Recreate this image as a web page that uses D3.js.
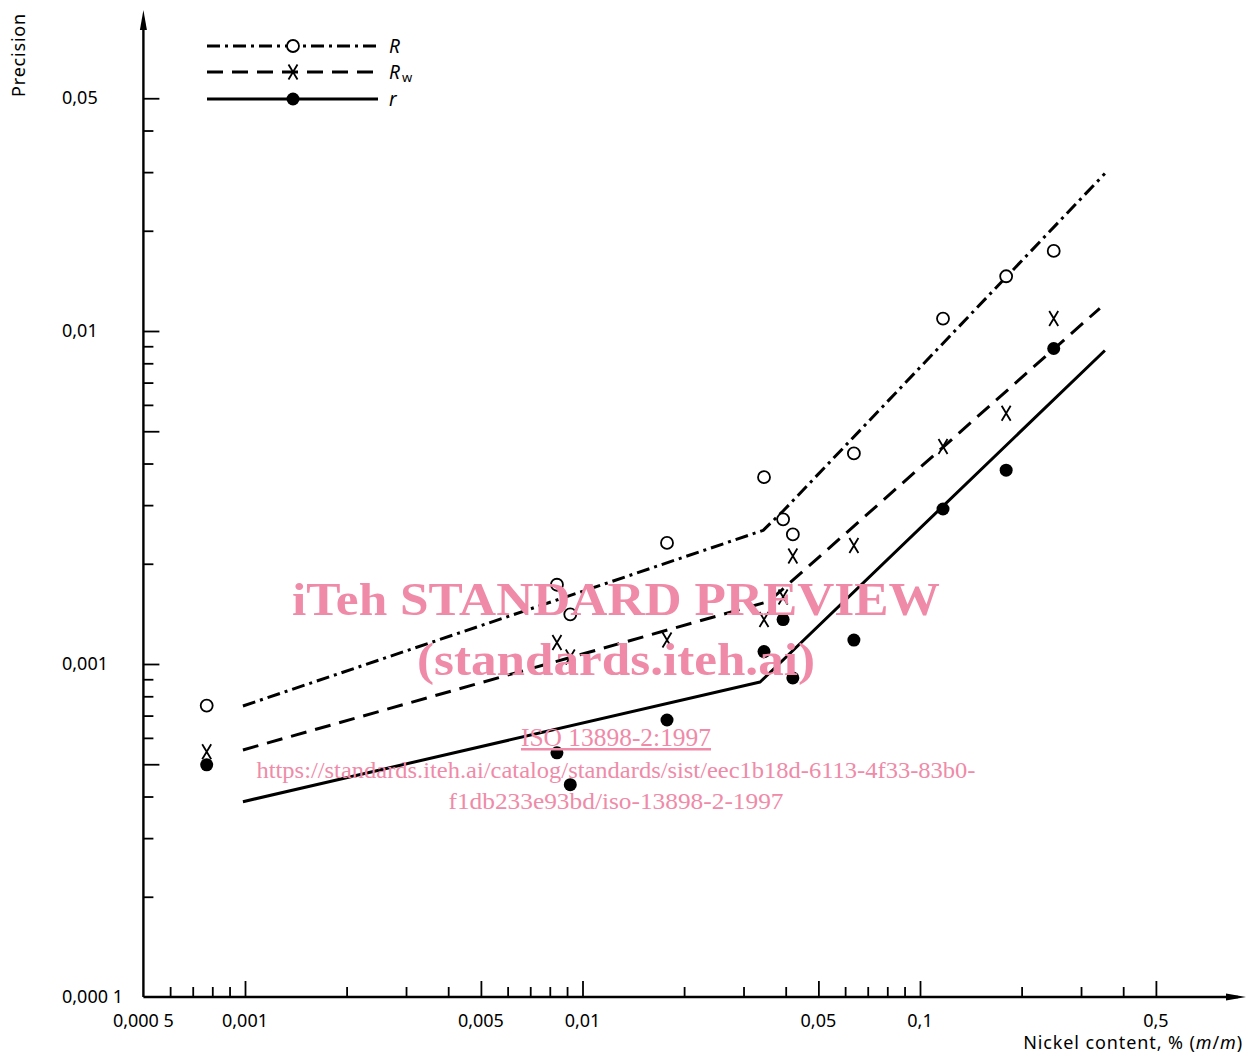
<!DOCTYPE html>
<html>
<head>
<meta charset="utf-8">
<script src="https://cdn.jsdelivr.net/npm/d3@7"></script>
<style>
  body { margin: 0; background: #fff; }
  svg { font-family: "Noto Sans", "DejaVu Sans", sans-serif; }
</style>
</head>
<body>
<script>
// Nickel content, % (m/m) of the test samples
var nickel = [0.00077, 0.0084, 0.0092, 0.0178, 0.0345, 0.0393, 0.042, 0.0637, 0.117, 0.180, 0.249];

// precision values
var valR  = [0.00075, 0.00173, 0.00141, 0.00231, 0.00364, 0.00272, 0.00245, 0.00429, 0.0109, 0.0146, 0.0174];
var valRw = [0.000545, 0.00116, 0.00105, 0.00118, 0.00136, 0.00159, 0.00211, 0.00227, 0.0045, 0.00566, 0.0109];
var valr  = [0.000498, 0.000541, 0.000434, 0.000679, 0.00109, 0.00136, 0.000908, 0.00118, 0.00292, 0.00382, 0.00886];

// fitted lines (knots, x then y)
var lineR  = [[0.000986, 0.000748], [0.0343, 0.00252], [0.0393, 0.00288], [0.353, 0.0297]];
var lineRw = [[0.000986, 0.000552], [0.0355, 0.00154], [0.039, 0.00167], [0.341, 0.0117]];
var liner  = [[0.000986, 0.000386], [0.0336, 0.000883], [0.353, 0.00874]];

var xTicks = [0.0006, 0.0007, 0.0008, 0.0009, 0.001, 0.002, 0.003, 0.004, 0.005, 0.006, 0.007, 0.008, 0.009,
              0.01, 0.02, 0.03, 0.04, 0.05, 0.06, 0.07, 0.08, 0.09, 0.1, 0.2, 0.3, 0.4, 0.5];
var xLabels = [[0.0005, "0,000 5"], [0.001, "0,001"], [0.005, "0,005"], [0.01, "0,01"],
               [0.05, "0,05"], [0.1, "0,1"], [0.5, "0,5"]];
var yTicks = [0.0002, 0.0003, 0.0004, 0.0005, 0.0006, 0.0007, 0.0008, 0.0009, 0.001,
              0.002, 0.003, 0.004, 0.005, 0.006, 0.007, 0.008, 0.009, 0.01,
              0.02, 0.03, 0.04, 0.05];
var yLabels = [[0.0001, "0,000 1"], [0.001, "0,001"], [0.01, "0,01"], [0.05, "0,05"]];

var width = 1246, height = 1056;

var svg = d3.select("body").append("svg")
    .attr("width", width)
    .attr("height", height);

svg.append("rect").attr("width", width).attr("height", height).attr("fill", "#fff");

var x = d3.scaleLog().domain([0.001, 0.1]).range([245, 920]);
var y = d3.scaleLog().domain([0.001, 0.01]).range([664, 331]);

var x0 = x(0.0005), y0 = y(0.0001);

function isMajor(v) {
  var m = v / Math.pow(10, Math.floor(Math.log10(v) + 1e-9));
  return Math.abs(m - 1) < 1e-6 || Math.abs(m - 5) < 1e-6;
}

// ---- axes ----
var axes = svg.append("g").attr("stroke", "#000").attr("fill", "none");

axes.append("line").attr("x1", x0).attr("y1", y0).attr("x2", 1238).attr("y2", y0)
    .attr("stroke-width", 2.4);
axes.append("line").attr("x1", x0).attr("y1", y0).attr("x2", x0).attr("y2", 20)
    .attr("stroke-width", 2.4);
svg.append("path").attr("d", "M1246," + y0 + " L1226," + (y0 - 3.5) + " L1226," + (y0 + 3.5) + " Z");
svg.append("path").attr("d", "M" + x0 + ",10 L" + (x0 - 3.5) + ",30 L" + (x0 + 3.5) + ",30 Z");

var xAxisMinor = d3.axisTop(x).tickValues(xTicks.filter(function(v) { return !isMajor(v); }))
    .tickSize(10).tickFormat("");
var xAxisMajor = d3.axisTop(x).tickValues(xTicks.filter(isMajor)).tickSize(16).tickFormat("");
[xAxisMinor, xAxisMajor].forEach(function(ax) {
  var g = svg.append("g").attr("transform", "translate(0," + y0 + ")").call(ax);
  g.select(".domain").remove();
  g.selectAll("line").attr("stroke-width", 1.8);
});

var yAxisMinor = d3.axisRight(y).tickValues(yTicks.filter(function(v) { return !isMajor(v); }))
    .tickSize(10).tickFormat("");
var yAxisMajor = d3.axisRight(y).tickValues(yTicks.filter(isMajor)).tickSize(16).tickFormat("");
[yAxisMinor, yAxisMajor].forEach(function(ax) {
  var g = svg.append("g").attr("transform", "translate(" + x0 + ",0)").call(ax);
  g.select(".domain").remove();
  g.selectAll("line").attr("stroke-width", 1.8);
});

svg.selectAll("text.xlab").data(xLabels).enter().append("text")
    .attr("class", "xlab")
    .attr("x", function(d) { return x(d[0]); })
    .attr("y", 1027)
    .attr("text-anchor", "middle")
    .attr("font-size", 18)
    .text(function(d) { return d[1]; });

svg.selectAll("text.ylab").data(yLabels).enter().append("text")
    .attr("class", "ylab")
    .attr("x", 62)
    .attr("y", function(d) { return y(d[0]) + 6; })
    .attr("font-size", 18)
    .text(function(d) { return d[1]; });

svg.append("text")
    .attr("transform", "translate(25,55) rotate(-90)")
    .attr("text-anchor", "middle")
    .attr("font-size", 18)
    .attr("letter-spacing", 0.8)
    .text("Precision");

var xt = svg.append("text").attr("x", 1243).attr("y", 1049).attr("text-anchor", "end")
    .attr("font-size", 18).attr("letter-spacing", 0.9);
xt.append("tspan").text("Nickel content, % (");
xt.append("tspan").attr("font-style", "italic").text("m");
xt.append("tspan").text("/");
xt.append("tspan").attr("font-style", "italic").text("m");
xt.append("tspan").text(")");

// ---- lines ----
var line = d3.line().x(function(d) { return x(d[0]); }).y(function(d) { return y(d[1]); });

var styles = {
  R:  { dash: "13,5,3,5", width: 3 },
  Rw: { dash: "16,9", width: 3 },
  r:  { dash: null, width: 3 }
};

function drawLine(data, st) {
  svg.append("path").datum(data)
      .attr("d", line)
      .attr("fill", "none")
      .attr("stroke", "#000")
      .attr("stroke-width", st.width)
      .attr("stroke-linejoin", "round")
      .attr("stroke-dasharray", st.dash);
}
drawLine(lineR, styles.R);
drawLine(lineRw, styles.Rw);
drawLine(liner, styles.r);

// ---- markers ----
function openCircle(g) {
  g.append("circle").attr("r", 6).attr("fill", "#fff").attr("stroke", "#000").attr("stroke-width", 1.8);
}
function cross(g) {
  g.append("path").attr("d", "M-4.5,-7.5 L4.5,7.5 M4.5,-7.5 L-4.5,7.5")
      .attr("stroke", "#000").attr("stroke-width", 1.8).attr("fill", "none");
}
function dot(g) {
  g.append("circle").attr("r", 6.5).attr("fill", "#000");
}

function drawPoints(vals, marker) {
  var g = svg.append("g");
  nickel.forEach(function(n, i) {
    var m = g.append("g").attr("transform", "translate(" + x(n) + "," + y(vals[i]) + ")");
    marker(m);
  });
}
drawPoints(valR, openCircle);
drawPoints(valRw, cross);
drawPoints(valr, dot);

// ---- legend ----
var legend = [
  { st: styles.R, marker: openCircle, y: 46, label: "R", sub: "" },
  { st: styles.Rw, marker: cross, y: 72, label: "R", sub: "w" },
  { st: styles.r, marker: dot, y: 99, label: "r", sub: "" }
];
legend.forEach(function(d) {
  svg.append("line").attr("x1", 207).attr("x2", 378).attr("y1", d.y).attr("y2", d.y)
      .attr("stroke", "#000").attr("stroke-width", d.st.width).attr("stroke-dasharray", d.st.dash);
  var m = svg.append("g").attr("transform", "translate(293," + d.y + ")");
  d.marker(m);
  var t = svg.append("text").attr("x", 389).attr("y", d.y + 7).attr("font-size", 19)
      .attr("font-style", "italic").text(d.label);
  if (d.sub) {
    t.append("tspan").attr("font-size", 13).attr("font-style", "normal").attr("dx", 2).attr("dy", 3).text(d.sub);
  }
});

// ---- watermark ----
var wm = svg.append("g").attr("fill", "#ef8aa8").attr("text-anchor", "middle")
    .style("font-family", "'Liberation Serif', 'DejaVu Serif', serif");
wm.append("text").attr("x", 616).attr("y", 615).attr("font-size", 47).attr("font-weight", "bold")
    .attr("textLength", 648).attr("lengthAdjust", "spacingAndGlyphs").text("iTeh STANDARD PREVIEW");
wm.append("text").attr("x", 616).attr("y", 675).attr("font-size", 47).attr("font-weight", "bold")
    .attr("textLength", 398).attr("lengthAdjust", "spacingAndGlyphs").text("(standards.iteh.ai)");
wm.append("text").attr("x", 616).attr("y", 746).attr("font-size", 25)
    .attr("text-decoration", "underline")
    .attr("textLength", 190).attr("lengthAdjust", "spacingAndGlyphs").text("ISO 13898-2:1997");
wm.append("text").attr("x", 616).attr("y", 778).attr("font-size", 24)
    .attr("textLength", 719).attr("lengthAdjust", "spacingAndGlyphs")
    .text("https://standards.iteh.ai/catalog/standards/sist/eec1b18d-6113-4f33-83b0-");
wm.append("text").attr("x", 616).attr("y", 809).attr("font-size", 24)
    .attr("textLength", 335).attr("lengthAdjust", "spacingAndGlyphs")
    .text("f1db233e93bd/iso-13898-2-1997");
</script>
</body>
</html>
